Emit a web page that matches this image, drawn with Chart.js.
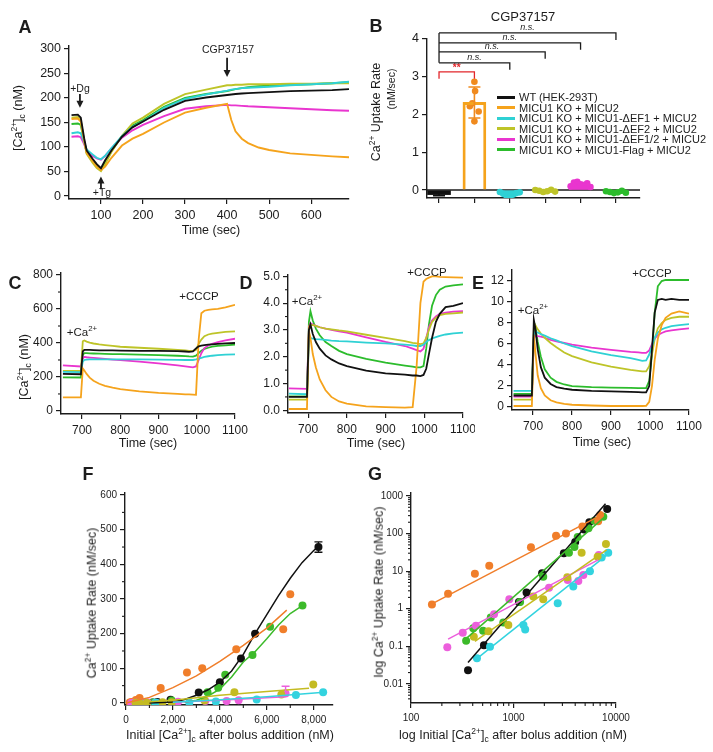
<!DOCTYPE html>
<html>
<head>
<meta charset="utf-8">
<title>MICU1 EF-hand mutants: cytosolic Ca2+ and uptake rate</title>
<script src="https://cdn.jsdelivr.net/npm/chart.js@4.4.1/dist/chart.umd.min.js"></script>
<style>
  html, body { margin: 0; background: #fff; }
  #fig { position: relative; width: 713px; height: 752px; overflow: hidden;
         font-family: "Liberation Sans", Arial, Helvetica, sans-serif; color: #1c1c1c; }
  #fig canvas { position: absolute; }
  .t { position: absolute; white-space: nowrap; line-height: 1; transform: translate(-50%, -50%); }
  .rot { transform: translate(-50%, -50%) rotate(-90deg); }
  .letter { font-weight: bold; }
  sup, sub { font-size: 68%; line-height: 0; }
</style>
</head>
<body>
<div id="fig"></div>
<script>
// ---------- data ----------
const groupNames = ['WT (HEK-293T)', 'MICU1 KO + MICU2', 'MICU1 KO + MICU1-ΔEF1 + MICU2',
  'MICU1 KO + MICU1-ΔEF2 + MICU2', 'MICU1 KO + MICU1-ΔEF1/2 + MICU2', 'MICU1 KO + MICU1-Flag + MICU2'];

// panel A (sec, nM)
const timeA  = [30, 45, 52, 60, 66, 80, 90, 100, 110, 125, 150, 175, 200, 250, 300, 350, 400, 410, 420, 435, 450, 475, 500, 550, 600, 650, 690];
const aWT    = [165, 166, 160, 118, 93, 76, 65, 57, 73, 93, 121, 140, 152, 176, 194, 201, 206, 207, 208, 209, 210, 211, 212, 214, 215, 216, 218];
const aKO    = [157, 158, 152, 112, 88, 72, 60, 53, 60, 78, 103, 117, 127, 150, 170, 180, 188, 155, 132, 117, 108, 99, 94, 87, 84, 81, 79];
const aDEF1  = [128, 130, 128, 110, 95, 85, 78, 75, 82, 98, 122, 141, 152, 180, 198, 207, 215, 217, 218, 220, 221, 222, 223, 226, 228, 230, 233];
const aDEF2  = [160, 161, 154, 112, 86, 68, 57, 51, 65, 90, 123, 148, 160, 188, 208, 217, 226, 226, 227, 227, 228, 228, 228, 229, 229, 230, 230];
const aDEF12 = [121, 122, 120, 106, 92, 82, 77, 74, 82, 97, 119, 134, 145, 163, 178, 183, 186, 185, 185, 184, 183, 182, 181, 179, 177, 175, 174];
const aFlag  = [147, 148, 145, 112, 88, 72, 62, 55, 68, 92, 122, 144, 155, 182, 200, 208, 214, 216, 218, 220, 222, 224, 225, 227, 228, 230, 232];

// panel B (nM/sec)
const bMean = [-0.12, 2.32, -0.11, -0.02, 0.15, -0.05];
const bSD   = [0.03, 0.41, 0.05, 0.03, 0.05, 0.03];
const bPoints = [
  [-0.12, -0.15, -0.10, -0.08, -0.13, -0.11],
  [2.87, 2.62, 2.30, 2.22, 2.08, 1.82],
  [-0.05, -0.10, -0.15, -0.18, -0.12, -0.08, -0.06],
  [0.00, -0.02, -0.05, -0.03, 0.01, -0.04],
  [0.10, 0.20, 0.22, 0.15, 0.12, 0.18, 0.08],
  [-0.03, -0.05, -0.08, -0.06, -0.02, -0.07]
];
const bBracketTo  = [1, 2, 3, 4, 5];
const bBracketAt  = [3.13, 3.37, 3.66, 3.90, 4.16];
const bBracketTxt = ['**', 'n.s.', 'n.s.', 'n.s.', 'n.s.'];

// panels C, D, E share the time base (sec)
const timeCDE = [650, 697, 702, 706, 712, 720, 730, 745, 760, 780, 800, 850, 900, 950, 970, 980, 990, 998, 1005, 1012, 1020, 1030, 1040, 1055, 1075, 1100];
// C (nM)
const cWT    = [218, 216, 350, 360, 360, 359, 358, 357, 357, 356, 355, 354, 353, 352, 350, 348, 350, 368, 380, 385, 388, 390, 392, 395, 398, 400];
const cKO    = [80, 80, 250, 238, 218, 196, 178, 160, 148, 137, 128, 115, 106, 100, 98, 97, 96, 95, 420, 575, 590, 595, 598, 601, 610, 625];
const cDEF1  = [230, 228, 290, 300, 302, 303, 303, 303, 303, 303, 303, 303, 302, 301, 300, 300, 300, 303, 308, 313, 318, 322, 325, 328, 331, 333];
const cDEF2  = [236, 235, 410, 415, 408, 402, 397, 392, 388, 383, 378, 372, 366, 360, 356, 354, 352, 360, 395, 420, 440, 450, 455, 460, 465, 468];
const cDEF12 = [268, 262, 310, 318, 316, 314, 312, 309, 306, 302, 299, 290, 280, 268, 262, 259, 256, 262, 300, 340, 370, 385, 395, 405, 415, 425];
const cFlag  = [198, 197, 330, 340, 340, 339, 338, 337, 336, 335, 334, 331, 329, 325, 323, 321, 320, 325, 340, 355, 365, 372, 378, 383, 386, 390];
// D (µM)
const dWT    = [0.5, 0.5, 3.0, 3.2, 2.85, 2.55, 2.3, 2.05, 1.9, 1.75, 1.65, 1.48, 1.38, 1.33, 1.3, 1.3, 1.28, 1.32, 1.55, 2.1, 2.7, 3.3, 3.6, 3.85, 3.9, 4.0];
const dKO    = [0.05, 0.05, 2.95, 2.7, 2.1, 1.6, 1.15, 0.75, 0.5, 0.33, 0.25, 0.15, 0.12, 0.1, 0.12, 1.6, 4.0, 4.8, 4.9, 4.95, 5.0, 5.0, 4.98, 4.97, 4.96, 4.95];
const dDEF1  = [0.62, 0.6, 2.6, 2.7, 2.68, 2.66, 2.65, 2.63, 2.6, 2.58, 2.57, 2.53, 2.5, 2.45, 2.42, 2.4, 2.4, 2.45, 2.55, 2.62, 2.68, 2.73, 2.78, 2.83, 2.87, 2.9];
const dDEF2  = [0.4, 0.4, 3.0, 3.2, 3.18, 3.15, 3.1, 3.05, 3.02, 2.98, 2.95, 2.82, 2.7, 2.58, 2.52, 2.5, 2.47, 2.5, 2.7, 3.0, 3.3, 3.45, 3.55, 3.6, 3.62, 3.65];
const dDEF12 = [0.82, 0.8, 3.1, 3.25, 3.2, 3.15, 3.1, 3.05, 3.0, 2.95, 2.9, 2.72, 2.55, 2.4, 2.3, 2.25, 2.2, 2.3, 2.7, 3.1, 3.35, 3.5, 3.6, 3.65, 3.68, 3.7];
const dFlag  = [0.52, 0.52, 3.3, 3.7, 3.35, 3.05, 2.8, 2.55, 2.4, 2.22, 2.1, 1.92, 1.78, 1.67, 1.63, 1.6, 1.6, 1.65, 2.3, 3.2, 3.9, 4.3, 4.5, 4.62, 4.66, 4.7];
// E (µM)
const eWT    = [1.1, 1.1, 8.3, 7.5, 5.5, 3.8, 2.8, 2.2, 1.9, 1.75, 1.65, 1.55, 1.5, 1.45, 1.42, 1.4, 1.4, 2.0, 5.5, 9.0, 10.2, 10.3, 10.2, 10.3, 10.2, 10.2];
const eKO    = [0.1, 0.1, 6.9, 5.2, 3.0, 1.8, 1.1, 0.65, 0.45, 0.3, 0.22, 0.15, 0.1, 0.1, 0.1, 0.1, 0.12, 0.5, 2.0, 4.5, 6.5, 7.8, 8.5, 8.9, 9.1, 8.9];
const eDEF1  = [1.55, 1.55, 6.5, 7.2, 7.1, 6.95, 6.8, 6.55, 6.35, 6.05, 5.8, 5.3, 4.95, 4.65, 4.5, 4.4, 4.45, 5.0, 5.8, 6.6, 7.1, 7.4, 7.55, 7.7, 7.8, 7.9];
const eDEF2  = [0.7, 0.7, 7.5, 7.8, 7.4, 7.0, 6.6, 6.1, 5.7, 5.2, 4.85, 4.25, 3.85, 3.55, 3.45, 3.4, 3.4, 3.9, 5.0, 6.5, 7.5, 8.0, 8.3, 8.5, 8.6, 8.6];
const eDEF12 = [1.0, 1.0, 6.5, 6.8, 6.75, 6.7, 6.6, 6.4, 6.25, 6.1, 5.95, 5.65, 5.45, 5.25, 5.2, 5.15, 5.15, 5.4, 6.0, 6.5, 6.85, 7.05, 7.2, 7.3, 7.4, 7.5];
const eFlag  = [1.25, 1.25, 7.0, 7.6, 6.2, 4.8, 3.6, 2.8, 2.4, 2.15, 2.0, 1.9, 1.85, 1.82, 1.8, 1.8, 1.8, 2.5, 5.0, 9.0, 11.5, 12.0, 12.1, 12.1, 12.1, 12.1];

// panels F and G: initial [Ca2+]c (nM) vs uptake rate (nM/sec)
const ptWTx    = [360, 515, 1130, 1340, 1900, 3100, 4000, 4900, 5500, 8200];
const ptWTy    = [0.023, 0.107, 1.5, 2.7, 8.8, 30, 60, 128, 200, 450];
const ptKOx    = [160, 230, 420, 580, 1480, 2600, 3250, 4700, 6700, 7000];
const ptKOy    = [1.3, 2.5, 8.5, 14, 43, 88, 100, 155, 213, 314];
const ptDEF1x  = [440, 590, 1250, 1300, 2700, 3830, 5570, 7240, 8400];
const ptDEF1y  = [0.048, 0.098, 0.37, 0.28, 1.4, 3.9, 10, 23, 31];
const ptDEF2x  = [410, 570, 890, 1560, 1950, 3350, 4620, 6620, 7980];
const ptDEF2y  = [0.18, 0.25, 0.37, 2.1, 1.8, 6.9, 31, 24, 53];
const ptDEF12x = [226, 320, 430, 646, 910, 2220, 3380, 4290, 4800, 6800];
const ptDEF12y = [0.094, 0.23, 0.35, 0.71, 1.8, 3.6, 5.8, 5.5, 7.9, 27];
const ptFlagx  = [345, 405, 505, 600, 795, 1160, 1950, 3475, 3930, 4230, 5390, 6140, 7520];
const ptFlagy  = [0.14, 0.30, 0.26, 0.58, 0.43, 1.5, 7.1, 31, 44, 81, 138, 220, 281];
const errWTlast = 15;      // SEM on the last WT point
const errDEF12last = 21;   // upper SEM on the last ΔEF1/2 point

// fitted curves as drawn in F (linear axes)
const fitFWTx = [1000, 2000, 2500, 3000, 3500, 4000, 4500, 5000, 5500, 6000, 6500, 7000, 7500, 8000, 8200];
const fitFWTy = [0, 3, 10, 22, 38, 60, 92, 140, 200, 255, 310, 360, 405, 440, 452];
const fitFKOx = [0, 1000, 2000, 3000, 4000, 5000, 6000, 6850];
const fitFKOy = [0, 16, 44, 78, 120, 166, 216, 268];
const fitFFlagx = [2500, 3000, 3500, 4000, 4500, 5000, 5500, 6000, 6500, 7000, 7500];
const fitFFlagy = [2, 8, 20, 40, 75, 118, 148, 185, 225, 258, 280];
const fitFDEF1x = [2000, 4000, 6000, 8300];
const fitFDEF1y = [2, 9, 18, 30];
const fitFDEF2x = [500, 2000, 4000, 6000, 7800];
const fitFDEF2y = [1, 8, 22, 33, 42];
const fitFDEF12x = [2000, 4000, 6800];
const fitFDEF12y = [2, 8, 18];
// fitted lines as drawn in G (log-log)
const fitGWTx = [360, 7900],  fitGWTy = [0.037, 620];
const fitGKOx = [160, 7000],  fitGKOy = [1.35, 300];
const fitGFlagx = [345, 8000], fitGFlagy = [0.16, 300];
const fitGDEF1x = [430, 8300], fitGDEF1y = [0.045, 28];
const fitGDEF2x = [420, 8100], fitGDEF2y = [0.135, 37];
const fitGDEF12x = [230, 6700], fitGDEF12y = [0.155, 20];

// tick values
const ticksA_x = [100, 200, 300, 400, 500, 600], ticksA_y = [0, 50, 100, 150, 200, 250, 300];
const ticksB_y = [0, 1, 2, 3, 4];
const ticksT_x = [700, 800, 900, 1000, 1100];
const ticksC_y = [0, 200, 400, 600, 800];
const ticksD_y = [0, 1, 2, 3, 4, 5];
const ticksE_y = [0, 2, 4, 6, 8, 10, 12];
const ticksF_x = [0, 2000, 4000, 6000, 8000], ticksF_y = [0, 100, 200, 300, 400, 500, 600];
const ticksG_x = [100, 1000, 10000], ticksG_y = [0.01, 0.1, 1, 10, 100, 1000];

// ---------- style ----------
const FONT = '"Liberation Sans", Arial, Helvetica, sans-serif';
const INK = '#1c1c1c';
const RED = '#e2262b';
const traceCol = ['#111111', '#f5a31c', '#2fd1d4', '#bec428', '#e935cf', '#2cbc2c'];
const dotCol   = ['#111111', '#f07e2a', '#33d3df', '#c4bb22', '#ec5fdc', '#3cba2a'];

const fig = document.getElementById('fig');

function place(left, top, w, h) {
  const c = document.createElement('canvas');
  c.width = w; c.height = h;
  c.style.left = left + 'px'; c.style.top = top + 'px';
  c.style.width = w + 'px'; c.style.height = h + 'px';
  fig.appendChild(c);
  return c;
}

function axis(type, min, max, ticks, fmt, size) {
  return {
    type, min, max, offset: false,
    afterBuildTicks: s => { s.ticks = ticks.map(v => ({ value: v })); },
    ticks: { autoSkip: false, maxRotation: 0, minRotation: 0, color: INK, padding: 3,
             font: { family: FONT, size }, callback: v => fmt(v) },
    grid: { drawOnChartArea: false, offset: false, tickLength: 5, color: INK, lineWidth: 1.2 },
    border: { color: INK, width: 1.4 }
  };
}

// box = canvas [left, top, w, h], area = plot rectangle [l, t, r, b] in page pixels
function panel(box, area, type, datasets, xAxis, yAxis, plugins) {
  const [left, top, w, h] = box;
  xAxis.position = 'bottom';
  xAxis.ticks.padding = 4;
  xAxis.afterFit = s => { s.height = top + h - area[3]; s.paddingLeft = 0; s.paddingRight = 0; };
  yAxis.position = 'left';
  yAxis.afterFit = s => { s.width = area[0] - left; s.paddingTop = 0; s.paddingBottom = 0; };
  return new Chart(place(left, top, w, h), {
    type,
    data: { datasets },
    options: {
      responsive: false, animation: false, events: [],
      layout: { padding: { left: 0, top: area[1] - top, right: left + w - area[2], bottom: 0 } },
      plugins: { legend: { display: false }, tooltip: { enabled: false } },
      scales: { x: xAxis, y: yAxis }
    },
    plugins: plugins || []
  });
}

function trace(xs, ys, color, width) {
  return { type: 'line', data: xs.map((x, i) => ({ x, y: ys[i] })), borderColor: color,
           borderWidth: width || 1.6, pointRadius: 0, tension: 0, fill: false };
}
function dots(xs, ys, color, r) {
  return { type: 'scatter', data: xs.map((x, i) => ({ x, y: ys[i] })), backgroundColor: color,
           borderColor: color, borderWidth: 0, pointRadius: r };
}

// short minor tick marks
function minorTicks(xs, ys) {
  return {
    id: 'minorTicks',
    afterDraw(ch) {
      const c = ch.ctx, a = ch.chartArea;
      c.save(); c.strokeStyle = INK; c.lineWidth = 1.1;
      xs.forEach(v => { const p = ch.scales.x.getPixelForValue(v);
        c.beginPath(); c.moveTo(p, a.bottom); c.lineTo(p, a.bottom + 3); c.stroke(); });
      ys.forEach(v => { const p = ch.scales.y.getPixelForValue(v);
        c.beginPath(); c.moveTo(a.left - 3, p); c.lineTo(a.left, p); c.stroke(); });
      c.restore();
    }
  };
}

function arrow(c, x, y0, y1) {
  const d = Math.sign(y1 - y0);
  c.lineWidth = 1.8;
  c.beginPath(); c.moveTo(x, y0); c.lineTo(x, y1 - d * 5); c.stroke();
  c.beginPath(); c.moveTo(x, y1); c.lineTo(x - 3.5, y1 - d * 7); c.lineTo(x + 3.5, y1 - d * 7); c.closePath(); c.fill();
}

const num = v => String(v);
const one = v => v.toFixed(1);

// ---------- A ----------
const seriesA = [aWT, aKO, aDEF1, aDEF2, aDEF12, aFlag];
panel([0, 0, 360, 250], [69, 46, 349, 199], 'line',
  seriesA.map((s, i) => trace(timeA, s, traceCol[i], 1.9)),
  axis('linear', 24, 690, ticksA_x, num, 12.5),
  axis('linear', -6, 306, ticksA_y, num, 12.5),
  [{ id: 'arrowsA', afterDatasetsDraw(ch) {
      const X = ch.scales.x, Y = ch.scales.y, c = ch.ctx;
      c.save(); c.strokeStyle = INK; c.fillStyle = INK;
      arrow(c, X.getPixelForValue(50), Y.getPixelForValue(208), Y.getPixelForValue(180));
      arrow(c, X.getPixelForValue(100), Y.getPixelForValue(14), Y.getPixelForValue(40));
      arrow(c, X.getPixelForValue(400), Y.getPixelForValue(282), Y.getPixelForValue(243));
      c.restore();
  } }]);

// ---------- B ----------
const spread = n => Array.from({ length: n }, (_, j) => n === 1 ? 0 : -0.28 + 0.56 * j / (n - 1));
const koJitter = [0, 0.02, -0.06, -0.13, 0.12, 0];
const bDatasets = [{
  type: 'bar',
  data: bMean.map((v, i) => ({ x: i, y: v })),
  backgroundColor: traceCol.map((c, i) => i === 1 ? 'rgba(0,0,0,0)' : c),
  borderColor: traceCol,
  borderWidth: traceCol.map((c, i) => i === 1 ? 2.2 : 0),
  barThickness: 23, grouped: false
}];
bPoints.forEach((pts, i) => {
  const jit = i === 1 ? koJitter : spread(pts.length);
  bDatasets.push({
    type: 'scatter', data: pts.map((v, j) => ({ x: i + jit[j], y: v })),
    backgroundColor: i === 0 ? '#ffffff' : (i === 1 ? '#f08a1e' : traceCol[i]),
    borderWidth: 0, pointRadius: i === 0 ? 1.2 : 3.3
  });
});
panel([360, 0, 353, 260], [427, 39, 640, 198], 'bar', bDatasets,
  axis('linear', -0.34, 5.68, [0, 1, 2, 3, 4, 5], () => '', 12),
  axis('linear', -0.21, 4, ticksB_y, num, 12.5),
  [{ id: 'marksB',
     beforeDatasetsDraw(ch) {
       const c = ch.ctx, a = ch.chartArea, y0 = ch.scales.y.getPixelForValue(0);
       c.save(); c.strokeStyle = INK; c.lineWidth = 1.4;
       c.beginPath(); c.moveTo(a.left, y0); c.lineTo(a.right, y0); c.stroke(); c.restore();
     },
     afterDatasetDraw(ch, args) {
       if (args.index !== 0) return;
       const X = ch.scales.x, Y = ch.scales.y, c = ch.ctx;
       c.save(); c.lineWidth = 1.6;
       bMean.forEach((m, i) => {
         const x = X.getPixelForValue(i), hi = Y.getPixelForValue(m + bSD[i]), lo = Y.getPixelForValue(m - bSD[i]);
         c.strokeStyle = i === 1 ? '#f08a1e' : traceCol[i];
         c.beginPath(); c.moveTo(x, hi); c.lineTo(x, lo);
         c.moveTo(x - 6, hi); c.lineTo(x + 6, hi); c.moveTo(x - 6, lo); c.lineTo(x + 6, lo); c.stroke();
       });
       c.restore();
     },
     afterDatasetsDraw(ch) {
       const X = ch.scales.x, Y = ch.scales.y, c = ch.ctx, x0 = X.getPixelForValue(0);
       c.save(); c.lineWidth = 1.3; c.textAlign = 'center'; c.textBaseline = 'bottom';
       const nsLevels = bBracketAt.filter((v, k) => bBracketTxt[k] !== '**');
       c.strokeStyle = INK;
       c.beginPath(); c.moveTo(x0, Y.getPixelForValue(Math.max(...nsLevels)));
       c.lineTo(x0, Y.getPixelForValue(Math.min(...nsLevels))); c.stroke();
       bBracketTo.forEach((to, k) => {
         const red = bBracketTxt[k] === '**';
         const y = Y.getPixelForValue(bBracketAt[k]), x1 = X.getPixelForValue(to);
         c.strokeStyle = red ? RED : INK; c.fillStyle = red ? RED : INK;
         c.beginPath();
         if (red) { c.moveTo(x0, y + 7); c.lineTo(x0, y); } else { c.moveTo(x0, y); }
         c.lineTo(x1, y); c.lineTo(x1, y + 7); c.stroke();
         c.font = (red ? 'bold 10px ' : 'italic 9px ') + FONT;
         c.fillText(bBracketTxt[k], (x0 + x1) / 2, red ? y + 1 : y - 1);
       });
       c.restore();
     } }]);

// ---------- C, D, E ----------
const range = (a, b, s) => { const r = []; for (let v = a; v <= b + 1e-9; v += s) r.push(+v.toFixed(3)); return r; };
panel([0, 262, 250, 198], [61, 273, 235, 414], 'line',
  [cWT, cKO, cDEF1, cDEF2, cDEF12, cFlag].map((s, i) => trace(timeCDE, s, traceCol[i], 1.8)),
  axis('linear', 645, 1100, ticksT_x, num, 12),
  axis('linear', -18, 812, ticksC_y, num, 12),
  [minorTicks([], range(100, 700, 200))]);

panel([235, 262, 240, 198], [288, 275, 463, 413], 'line',
  [dWT, dKO, dDEF1, dDEF2, dDEF12, dFlag].map((s, i) => trace(timeCDE, s, traceCol[i], 1.8)),
  axis('linear', 648, 1100, ticksT_x, num, 12),
  axis('linear', -0.1, 5.05, ticksD_y, one, 12),
  [minorTicks([], range(0.5, 4.5, 1))]);

panel([470, 262, 243, 198], [512, 270, 689, 410], 'line',
  [eWT, eKO, eDEF1, eDEF2, eDEF12, eFlag].map((s, i) => trace(timeCDE, s, traceCol[i], 1.8)),
  axis('linear', 646, 1100, ticksT_x, num, 12),
  axis('linear', -0.28, 13.05, ticksE_y, num, 12),
  [minorTicks([], range(1, 11, 2))]);

// ---------- F ----------
const ptX = [ptWTx, ptKOx, ptDEF1x, ptDEF2x, ptDEF12x, ptFlagx];
const ptY = [ptWTy, ptKOy, ptDEF1y, ptDEF2y, ptDEF12y, ptFlagy];
const fitFx = [fitFWTx, fitFKOx, fitFDEF1x, fitFDEF2x, fitFDEF12x, fitFFlagx];
const fitFy = [fitFWTy, fitFKOy, fitFDEF1y, fitFDEF2y, fitFDEF12y, fitFFlagy];
const fitGx = [fitGWTx, fitGKOx, fitGDEF1x, fitGDEF2x, fitGDEF12x, fitGFlagx];
const fitGy = [fitGWTy, fitGKOy, fitGDEF1y, fitGDEF2y, fitGDEF12y, fitGFlagy];
const drawOrder = [3, 2, 4, 1, 5, 0];

const fSets = [];
drawOrder.forEach(i => fSets.push(trace(fitFx[i], fitFy[i], dotCol[i], 1.5)));
drawOrder.forEach(i => fSets.push(dots(ptX[i], ptY[i], dotCol[i], 4)));
panel([0, 462, 360, 290], [125, 493, 333, 705], 'scatter', fSets,
  axis('linear', -40, 8820, ticksF_x, v => v.toLocaleString('en-US'), 10),
  axis('linear', -6, 606, ticksF_y, num, 10),
  [minorTicks(range(1000, 7000, 2000), range(50, 550, 100)),
   { id: 'errF', afterDatasetsDraw(ch) {
       const X = ch.scales.x, Y = ch.scales.y, c = ch.ctx;
       const bar = (x, y, lo, hi, col) => {
         const px = X.getPixelForValue(x), t = Y.getPixelForValue(y + hi), b = Y.getPixelForValue(y - lo);
         c.strokeStyle = col; c.lineWidth = 1.4;
         c.beginPath(); c.moveTo(px, b); c.lineTo(px, t); c.moveTo(px - 4, t); c.lineTo(px + 4, t);
         if (lo > 0) { c.moveTo(px - 4, b); c.lineTo(px + 4, b); }
         c.stroke();
       };
       c.save();
       bar(ptWTx[ptWTx.length - 1], ptWTy[ptWTy.length - 1], errWTlast, errWTlast, dotCol[0]);
       bar(ptDEF12x[ptDEF12x.length - 1], ptDEF12y[ptDEF12y.length - 1], 0, errDEF12last, dotCol[4]);
       c.restore();
   } }]);

// ---------- G ----------
const gSets = [];
drawOrder.forEach(i => gSets.push(trace(fitGx[i], fitGy[i], dotCol[i], 1.5)));
drawOrder.forEach(i => gSets.push(dots(ptX[i], ptY[i], dotCol[i], 4)));
const logMinor = (lo, hi) => { const r = []; for (let d = lo; d < hi; d *= 10) for (let k = 2; k <= 9; k++) r.push(d * k); return r; };
panel([355, 462, 358, 290], [411, 493, 616, 703], 'scatter', gSets,
  axis('logarithmic', 100, 10000, ticksG_x, num, 10),
  axis('logarithmic', 0.0031, 1200, ticksG_y, num, 10),
  [minorTicks(logMinor(100, 10000), logMinor(0.001, 1000).filter(v => v > 0.0031 && v < 1200))]);

// ---------- text ----------
function txt(x, y, html, size, cls) {
  const d = document.createElement('div');
  d.className = 't ' + (cls || '');
  d.style.left = x + 'px'; d.style.top = y + 'px'; d.style.fontSize = size + 'px';
  d.innerHTML = html;
  fig.appendChild(d);
}
[['A', 25, 27], ['B', 376, 26], ['C', 15, 283], ['D', 246, 283], ['E', 478, 283], ['F', 88, 474], ['G', 375, 474]]
  .forEach(([l, x, y]) => txt(x, y, l, 18, 'letter'));

const caC = '[Ca<sup>2+</sup>]<sub>c</sub>';
txt(211, 230, 'Time (sec)', 12.5);
txt(18, 118, caC + ' (nM)', 12.5, 'rot');
txt(80, 88, '+Dg', 10.5);
txt(102, 192, '+Tg', 10.5);
txt(228, 49, 'CGP37157', 10.5);

txt(523, 16, 'CGP37157', 13);
txt(376, 112, 'Ca<sup>2+</sup> Uptake Rate', 12.5, 'rot');
txt(391, 89, '(nM/sec)', 10.5, 'rot');

txt(148, 443, 'Time (sec)', 12.5);
txt(24, 367, caC + ' (nM)', 12.5, 'rot');
txt(82, 333, '+Ca<sup>2+</sup>', 11.5);
txt(199, 297, '+CCCP', 11.5);
txt(376, 443, 'Time (sec)', 12.5);
txt(307, 302, '+Ca<sup>2+</sup>', 11.5);
txt(427, 273, '+CCCP', 11.5);
txt(602, 442, 'Time (sec)', 12.5);
txt(533, 311, '+Ca<sup>2+</sup>', 11.5);
txt(652, 274, '+CCCP', 11.5);

txt(230, 735, 'Initial ' + caC + ' after bolus addition (nM)', 12.5);
txt(92, 603, 'Ca<sup>2+</sup> Uptake Rate (nM/sec)', 12.5, 'rot');
txt(513, 735, 'log Initial ' + caC + ' after bolus addition (nM)', 12.5);
txt(379, 592, 'log Ca<sup>2+</sup> Uptake Rate (nM/sec)', 12.5, 'rot');

// legend of panel B
groupNames.forEach((name, i) => {
  const d = document.createElement('div');
  d.style.cssText = 'position:absolute;left:497px;top:' + (91 + i * 10.5) + 'px;height:12px;line-height:12px;font-size:11px;white-space:nowrap;';
  d.innerHTML = '<span style="display:inline-block;width:18px;height:3px;background:' + traceCol[i] +
    ';vertical-align:middle;margin-right:4px;position:relative;top:-1px"></span>' + name;
  fig.appendChild(d);
});
</script>
</body>
</html>
